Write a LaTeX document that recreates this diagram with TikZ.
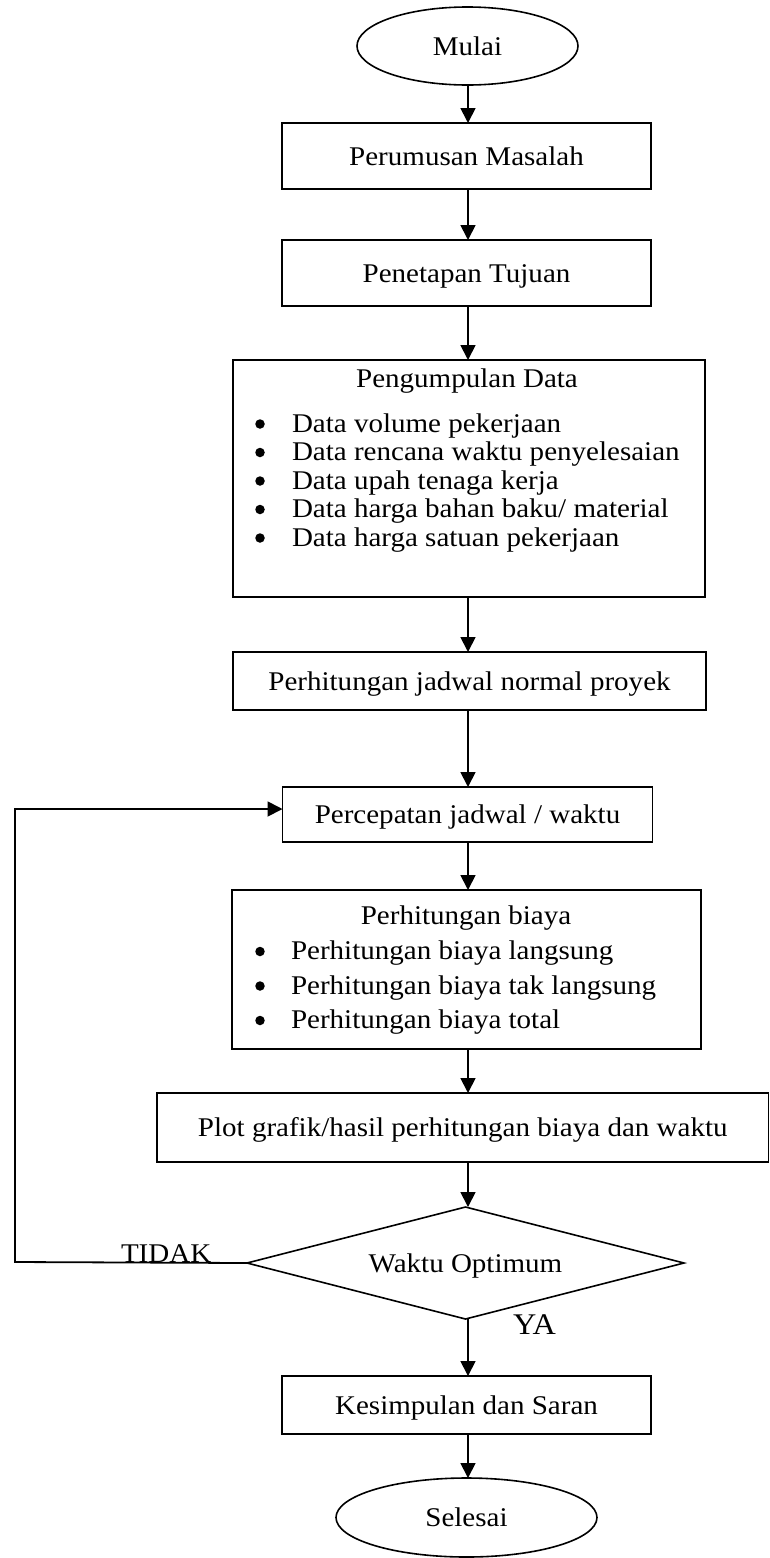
\documentclass[tikz,border=0pt]{standalone}
\usepackage{fontspec}
\setmainfont[FakeStretch=1.075]{Liberation Serif}
\usetikzlibrary{arrows.meta,shapes.geometric}
\begin{document}
\begin{tikzpicture}[x=1pt,y=-1pt,
  every node/.style={font=\fontsize{27}{32}\selectfont, inner sep=0pt, outer sep=0pt},
  box/.style={draw, line width=1.8pt, rectangle, text height=24.1pt, text depth=5.8pt},
  term/.style={draw, line width=1.6pt, ellipse, text height=24.1pt, text depth=5.8pt},
  decision/.style={draw, line width=1.6pt, diamond, aspect=3.87, text height=24.1pt, text depth=5.8pt},
  arr/.style={line width=1.8pt, line join=miter, -{Triangle[length=15pt,width=15pt]}},
  itemtext/.style={anchor=base west},
  bulletmark/.style={circle, fill=black, minimum size=9.5pt},
  title/.style={anchor=base},
  lbl/.style={anchor=base west}
]
\useasboundingbox (0,0) rectangle (770,1558);
\coordinate (col) at (468,0);

% terminals and boxes
\node[term, minimum width=221pt, minimum height=78pt] (mulai) at (467.5,46) {Mulai};
\node[box, minimum width=369pt, minimum height=66pt] (rumus) at (466.5,156) {Perumusan Masalah};
\node[box, minimum width=369pt, minimum height=66pt] (tujuan) at (466.5,273) {Penetapan Tujuan};
\node[box, minimum width=472pt, minimum height=237pt] (data) at (469,478.5) {};
\node[box, minimum width=473pt, minimum height=58pt] (normal) at (469.5,681) {Perhitungan jadwal normal proyek};
\node[box, minimum width=370pt, minimum height=55pt] (cepat) at (467.5,814.5) {Percepatan jadwal / waktu};
\node[box, minimum width=469pt, minimum height=159pt] (biaya) at (466.5,969.5) {};
\node[box, minimum width=611.5pt, minimum height=69pt] (plot) at (462.75,1127.5) {Plot grafik/hasil perhitungan biaya dan waktu};
\node[decision, minimum width=437pt, minimum height=112pt] (opt) at (465.5,1263) {Waktu Optimum};
\node[box, minimum width=369pt, minimum height=58pt] (simpul) at (466.5,1405) {Kesimpulan dan Saran};
\node[term, minimum width=261pt, minimum height=79pt] (selesai) at (466.5,1517.5) {Selesai};

% Pengumpulan Data contents
\node[title] (datatitle) at (467,387) {Pengumpulan Data};
\foreach \y/\t [count=\i] in {432/{Data volume pekerjaan}, 460.5/{Data rencana waktu penyelesaian}, 489/{Data upah tenaga kerja}, 517.5/{Data harga bahan baku/ material}, 546/{Data harga satuan pekerjaan}}{
  \node[bulletmark] (db\i) at (260,\y-8) {};
  \node[itemtext] (dt\i) at (292,\y) {\t};
}

% Perhitungan biaya contents
\node[title] (biayatitle) at (466,924) {Perhitungan biaya};
\foreach \y/\t [count=\i] in {959.5/{Perhitungan biaya langsung}, 994/{Perhitungan biaya tak langsung}, 1028.5/{Perhitungan biaya total}}{
  \node[bulletmark] (bb\i) at (260,\y-8) {};
  \node[itemtext] (bt\i) at (291,\y) {\t};
}

% main flow arrows
\draw[arr] (mulai.south -| col) -- (rumus.north -| col);
\draw[arr] (rumus.south -| col) -- (tujuan.north -| col);
\draw[arr] (tujuan.south -| col) -- (data.north -| col);
\draw[arr] (data.south -| col) -- (normal.north -| col);
\draw[arr] (normal.south -| col) -- (cepat.north -| col);
\draw[arr] (cepat.south -| col) -- (biaya.north -| col);
\draw[arr] (biaya.south -| col) -- (plot.north -| col);
\draw[arr] (plot.south -| col) -- (opt.north -| col);
\draw[arr] (opt.south -| col) -- (simpul.north -| col);
\draw[arr] (simpul.south -| col) -- (selesai.north -| col);

% feedback loop
\coordinate (lb) at (15,1262);
\coordinate (lt) at (15,809);
\draw[arr] (opt.west) -- (lb) -- (lt) -- (lt -| cepat.west);

% labels
\node[lbl] (tidak) at (121,1262) {TIDAK};
\node[lbl, font=\fontsize{30}{34}\selectfont] (ya) at (513,1334) {YA};
\end{tikzpicture}
\end{document}
